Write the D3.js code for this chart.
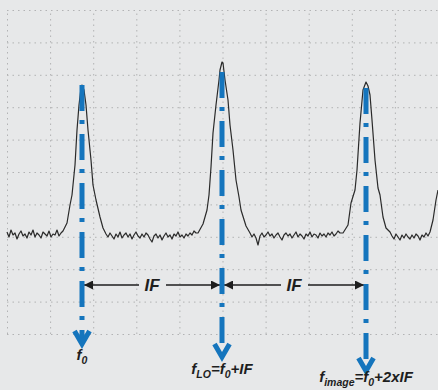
<!DOCTYPE html>
<html>
<head>
<meta charset="utf-8">
<script src="https://cdn.jsdelivr.net/npm/d3@7"></script>
<style>
  html, body { margin: 0; padding: 0; background: #e7e8e9; }
  svg { display: block; }
  text { font-family: "Liberation Sans", Arial, sans-serif; font-weight: bold; font-style: italic; fill: #1e1e1e; }
</style>
</head>
<body>
<svg id="chart" width="438" height="390"></svg>
<script>
// Spectrum trace: [frequency (arb. units), level (arb. units)]
const traceData = [
  [0,102],[2,97],[4,104],[6,99],[8,101],[10,95],[12,100],[14,103],[16,98],[18,100],
  [20,96],[22,102],[24,99],[26,104],[28,97],[30,101],[32,99],[34,96],[36,102],[38,100],
  [40,98],[42,103],[44,97],[46,100],[48,99],[50,104],[52,98],[54,101],[56,103],
  [60,111],[63,129],[65,139],[68,169],[70,204],[72,229],[74,246],[75,249],[77,244],
  [79,229],[81,204],[84,174],[86,149],[89,134],[93,117],[96,106],[99,100],
  [101,97],[103,101],[105,98],[107,95],[109,100],[111,97],[113,102],[115,96],[117,99],
  [119,101],[121,97],[123,100],[125,95],[127,99],[129,102],[131,98],[133,96],[135,100],
  [137,97],[139,101],[141,99],[143,95],[145,92],[147,98],[149,100],[151,96],[153,99],
  [155,94],[157,98],[159,101],[161,97],[163,99],[165,95],[167,100],[169,98],[171,102],
  [173,97],[175,99],[177,96],[179,100],[181,98],[183,101],[185,99],[187,103],[189,101],
  [191,101],[196,110],[200,124],[202,139],[204,167],[206,201],[209,229],[212,254],
  [213,264],[215,272],[216,271],[218,254],[221,234],[223,209],[226,184],[229,154],
  [232,137],[234,124],[239,108],[243,101],
  [245,97],[247,100],[249,96],[251,89],[253,98],[255,101],[257,97],[259,99],[261,102],
  [263,98],[265,100],[267,96],[269,99],[271,101],[273,97],[275,94],[277,99],[279,101],
  [281,98],[283,100],[285,96],[287,99],[289,102],[291,97],[293,100],[295,98],[297,95],
  [299,100],[301,98],[303,102],[305,97],[307,100],[309,99],[311,96],[313,101],[315,98],
  [317,100],[319,97],[321,101],[323,99],[325,102],[327,98],[329,100],[331,103],[333,101],
  [336,101],[341,109],[344,131],[348,144],[350,164],[353,211],[356,244],[359,252],
  [361,248],[363,239],[365,214],[368,174],[371,146],[373,139],[376,117],[379,106],[383,102],
  [385,98],[387,95],[389,100],[391,97],[393,94],[395,99],[397,96],[399,100],[401,97],
  [403,95],[405,99],[407,96],[409,100],[411,98],[413,94],[415,99],[417,97],[419,101],
  [421,98],[423,102],[426,114],[429,134],[431,144]
];

// Marker lines (f0, fLO, fimage)
const markerFreq  = [75, 215, 359];
const markerTop   = [249, 262, 246];
const markerTip   = [-12, -25, -39];
const markerLabels = [
  [["f",""],["0","sub"]],
  [["f",""],["LO","sub"],["=f",""],["0","sub"],["+IF",""]],
  [["f",""],["image","sub"],["=f",""],["0","sub"],["+2xIF",""]]
];
const markerLabelLevel = [-26, -40, -48];

// IF spans
const ifSpans = [[0, 1], [1, 2]];
const ifLabel = "IF";
const ifLevel = 49;

const svg = d3.select("#chart");
const x = d3.scaleLinear().domain([0, 431]).range([7, 438]);
const y = d3.scaleLinear().domain([0, 324]).range([334, 10]);

// grid
const gx = d3.range(0, 11).map(i => i * 43.1);
const gy = d3.range(0, 11).map(i => i * 32.4);
const grid = svg.append("g").attr("stroke", "#909192").attr("stroke-width", 1)
  .attr("stroke-dasharray", "1.5,4").attr("opacity", 0.6);
grid.selectAll("line.v").data(gx).join("line").attr("class", "v")
  .attr("x1", d => x(d) + 0.5).attr("x2", d => x(d) + 0.5)
  .attr("y1", y(0)).attr("y2", y(324));
grid.selectAll("line.h").data(gy).join("line").attr("class", "h")
  .attr("x1", x(0)).attr("x2", x(431))
  .attr("y1", d => y(d) + 0.5).attr("y2", d => y(d) + 0.5);

// trace
svg.append("path").datum(traceData)
  .attr("fill", "none").attr("stroke", "#2a2a2a").attr("stroke-width", 1.2)
  .attr("stroke-linejoin", "round")
  .attr("d", d3.line().x(d => x(d[0])).y(d => y(d[1])));

// IF arrows
const defs = svg.append("defs");
defs.append("marker").attr("id", "ah").attr("viewBox", "0 0 10 10")
  .attr("refX", 10).attr("refY", 5).attr("markerWidth", 9).attr("markerHeight", 9)
  .attr("markerUnits", "userSpaceOnUse").attr("orient", "auto")
  .append("path").attr("d", "M0,0 L10,5 L0,10 Z").attr("fill", "#1e1e1e");

ifSpans.forEach(([a, b]) => {
  const x0 = x(markerFreq[a]) + 2, x1 = x(markerFreq[b]) - 2;
  const xm = (x0 + x1) / 2;
  const yy = y(ifLevel);
  const g = svg.append("g");
  g.append("line").attr("x1", xm - 13).attr("x2", x0).attr("y1", yy).attr("y2", yy)
    .attr("stroke", "#1e1e1e").attr("stroke-width", 1.5).attr("marker-end", "url(#ah)");
  g.append("line").attr("x1", xm + 14).attr("x2", x1).attr("y1", yy).attr("y2", yy)
    .attr("stroke", "#1e1e1e").attr("stroke-width", 1.5).attr("marker-end", "url(#ah)");
  g.append("text").attr("x", xm).attr("y", yy + 6).attr("text-anchor", "middle")
    .attr("font-size", 17).text(ifLabel);
});

// marker lines
const blue = "#1575bd";
markerFreq.forEach((f, i) => {
  const mx = x(f);
  svg.append("line").attr("x1", mx).attr("x2", mx)
    .attr("y1", y(markerTop[i])).attr("y2", y(markerTip[i]) - 4)
    .attr("stroke", blue).attr("stroke-width", 5)
    .attr("stroke-dasharray", "26,9,4,10");
  const ty = y(markerTip[i]);
  svg.append("path")
    .attr("d", `M${mx - 7.5},${ty - 15} L${mx},${ty - 2} L${mx + 7.5},${ty - 15}`)
    .attr("fill", "none").attr("stroke", blue).attr("stroke-width", 5)
    .attr("stroke-linejoin", "miter");
  const t = svg.append("text").attr("x", mx).attr("y", y(markerLabelLevel[i]))
    .attr("text-anchor", "middle").attr("font-size", 15);
  markerLabels[i].forEach(([s, kind]) => {
    const ts = t.append("tspan").text(s);
    if (kind === "sub") ts.attr("font-size", 10.5).attr("baseline-shift", "-3.5");
    else ts.attr("baseline-shift", "0");
  });
});
</script>
</body>
</html>
